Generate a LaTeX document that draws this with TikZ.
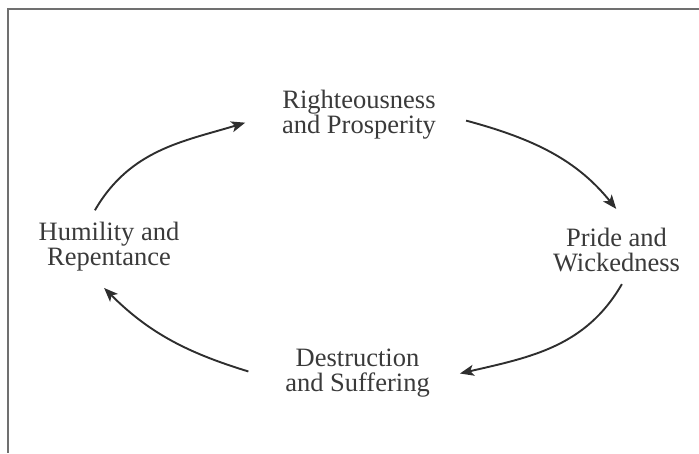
\documentclass[tikz,border=0pt]{standalone}
\usepackage{fontspec}
\setmainfont{Liberation Serif}
\usetikzlibrary{arrows.meta}

\definecolor{inkgray}{HTML}{3A3A3A}
\definecolor{arrowgray}{HTML}{2E2E2E}
\definecolor{framegray}{HTML}{707070}

\tikzset{
	stage/.style={align=center, text=inkgray, font=\fontsize{26.5}{25}\selectfont, inner xsep=30pt, inner ysep=12pt},
	cyc/.style={draw=arrowgray, line width=1.9pt, -{Stealth[length=14pt,width=11pt,inset=3.5pt]}},
	frame/.style={draw=framegray, line width=2pt}
}

\begin{document}
\begin{tikzpicture}[x=1pt,y=1pt]
			\useasboundingbox (0,0) rectangle (699,453);
			\draw[frame] (699,444) -- (7.5,444) -- (7.5,0);
			
			% the four stages of the cycle
			\node[stage] (rig) at (359,338) {Righteousness\\and Prosperity};
			\node[stage] (pri) at (616.5,203) {Pride and\\Wickedness};
			\node[stage] (des) at (357.5,79.5) {Destruction\\and Suffering};
			\node[stage] (hum) at (109,206) {Humility and\\Repentance};
			
			% arrows round the cycle
			\draw[cyc,shorten >=7pt] (hum.111) to[out=60,in=197] (rig.183);
			\draw[cyc,shorten >=9pt] (rig.357) to[out=-15,in=129] (pri.81);
			\draw[cyc] (pri.279) to[out=240,in=13] (des.east);
			\draw[cyc,shorten <=7pt,shorten >=6pt] (des.west) to[out=163,in=-45] (hum.256);
		\end{tikzpicture}
\end{document}
